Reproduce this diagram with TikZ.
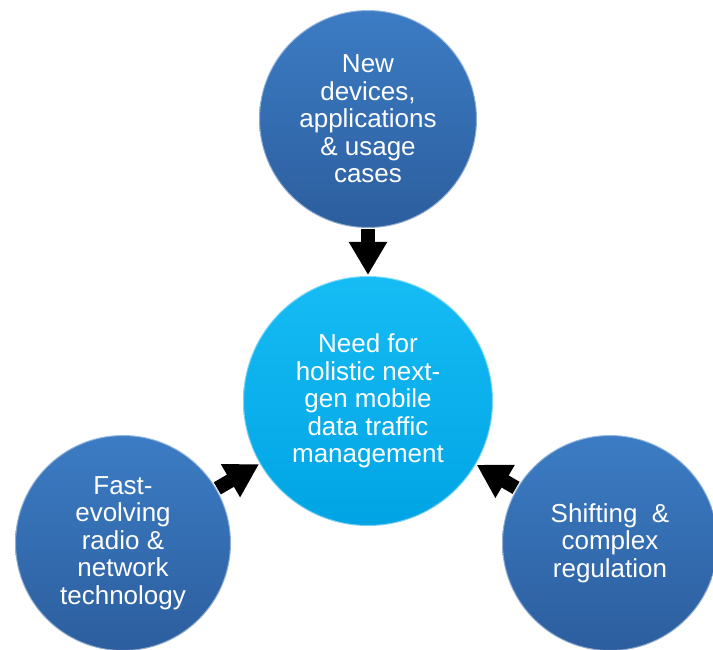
\documentclass[tikz,border=0pt]{standalone}
\usepackage{fontspec}
\setmainfont{Liberation Sans}
\usetikzlibrary{positioning,arrows.meta}
\definecolor{colorouter}   {RGB}{60 ,124,196}
\definecolor{colorouterdk} {RGB}{44 ,94 ,158}
\definecolor{colorcore}    {RGB}{22 ,188,244}
\definecolor{colorcoredk}  {RGB}{0  ,164,228}

\begin{document}
\begin{tikzpicture}[
    x=1pt, y=-1pt,
    node distance = 46pt,
    base/.style={circle,text=white,font={\fontsize{26}{27.5}\selectfont},align=center,inner sep=0pt,draw=white,draw opacity=.45,line width=2pt},
    outer/.style={base,top color=colorouter,bottom color=colorouterdk,minimum size=216pt},
    core/.style={base,top color=colorcore,bottom color=colorcoredk,minimum size=250pt},
    push/.style={line width=14pt,-{Triangle[width=36pt,length=33pt]}},
]

    \fill[white] (0,0) rectangle (713,650);
    \useasboundingbox (0,0) rectangle (713,650);

    % Circles
    \node[core] (need) at (368,401) {Need for\\holistic next-\\gen mobile\\data traffic\\management};
    \node[outer,minimum size=218pt,above=46pt of need] (devices) {New\\devices,\\applications\\\& usage\\cases};
    \node[outer] (technology) at (123,543) {Fast-\\evolving\\radio \&\\network\\technology};
    \node[outer] (regulation) at (610,543) {Shifting~~\&\\complex\\regulation};

    % Arrows
    \draw[push] (devices) -- (need);
    \draw[push] (technology) -- (need);
    \draw[push] (regulation) -- (need);

\end{tikzpicture}
\end{document}
